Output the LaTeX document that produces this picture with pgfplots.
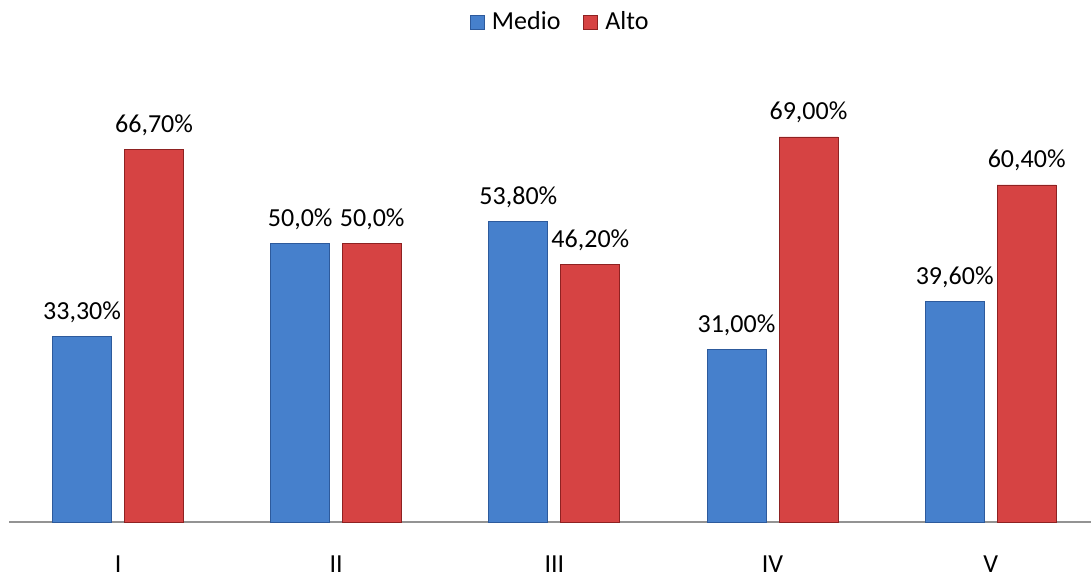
\documentclass[border=0pt]{standalone}
\usepackage{fontspec}
\setmainfont{Carlito}
\usepackage{pgfplots}
\pgfplotsset{compat=1.18}
\definecolor{cblue}{HTML}{4680CC}
\definecolor{cbluedk}{HTML}{2D5A9C}
\definecolor{cred}{HTML}{D64343}
\definecolor{creddk}{HTML}{8E2222}
\newcommand{\fnt}{\fontsize{13}{15}\selectfont}
\begin{document}
\begin{tikzpicture}
\path[use as bounding box] (0,0) rectangle (545.5pt,289pt);
\begin{axis}[
  at={(4.5pt,28pt)}, anchor=south west,
  scale only axis, width=541pt, height=231pt,
  xmin=-0.5, xmax=4.46, ymin=0, ymax=82.8,
  ybar, bar width=29.5pt,
  hide y axis,
  axis x line*=bottom,
  x axis line style={draw=gray!85, line width=0.7pt, -},
  xtick={0,1,2,3,4},
  xticklabels={I,II,III,IV,V},
  major tick length=0pt,
  xticklabel style={font=\fnt, anchor=base, yshift=-25.25pt},
  point meta=explicit symbolic,
  nodes near coords,
  nodes near coords style={font=\fnt, anchor=base, inner sep=0pt, yshift=8.5pt, text=black},
  legend columns=2,
  legend style={at={(axis description cs:0.51,1)}, anchor=center, yshift=19pt, draw=none, font=\fnt,
    nodes={inner xsep=1.5pt},
    /tikz/every odd column/.append style={column sep=2pt},
    /tikz/every even column/.append style={column sep=10pt}},
  legend image code/.code={\path[#1] (0pt,-3.5pt) rectangle (7pt,3.5pt);},
]
\addplot[draw=cbluedk, line width=0.4pt, fill=cblue, bar shift=-18pt] coordinates {
  (0,33.3) [33,30\%]
  (1,50.0) [50,0\%]
  (2,53.8) [53,80\%]
  (3,31.0) [31,00\%]
  (4,39.6) [39,60\%]
};
\addplot[draw=creddk, line width=0.4pt, fill=cred, bar shift=18pt] coordinates {
  (0,66.7) [66,70\%]
  (1,50.0) [50,0\%]
  (2,46.2) [46,20\%]
  (3,69.0) [69,00\%]
  (4,60.4) [60,40\%]
};
\legend{Medio,Alto}
\end{axis}
\end{tikzpicture}
\end{document}
